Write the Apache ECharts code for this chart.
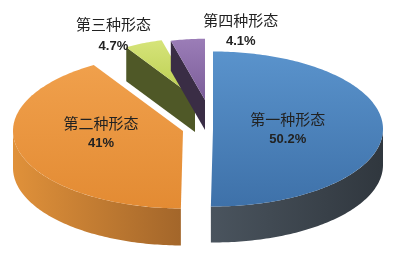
<!DOCTYPE html>
<html><head><meta charset="utf-8">
<script src="https://cdn.jsdelivr.net/npm/echarts@6/dist/echarts.min.js"></script>
<style>html,body{margin:0;padding:0;background:#fff}#c{width:400px;height:269px}</style>
</head><body><div id="c"></div>
<script>
// ---- data ----
const names = ['第一种形态', '第二种形态', '第三种形态', '第四种形态'];
const values = [50.2, 41, 4.7, 4.1];
const percentLabels = ['50.2%', '41%', '4.7%', '4.1%'];

// ---- styles / layout ----
const topColors = [['#5a93cc', '#3e71a9'], ['#f0a04c', '#e38b33'], ['#d6e47a', '#b9cc4c'], ['#9b7db7', '#7b5d99']];
const sideColors = [['#4a545e', '#30373e'], ['#e0913a', '#a3662a'], ['#6b763d', '#4f5827'], ['#5a4766', '#3a2d45']];
const geom = [
  { cx: 213, cy: 129, s: 1, d: 36 },
  { cx: 183, cy: 131, s: 1, d: 37 },
  { cx: 195, cy: 98, s: 0.77, d: 34 },
  { cx: 205, cy: 100, s: 0.79, d: 30 }
];
const RX = 170, RY = 77.5;
const labelLayout = [
  { mode: 'in', f: 0.44, dx: 0, dy: 0, gap: 20 },
  { mode: 'in', f: 0.5, dx: 0, dy: -8, gap: 20 },
  { mode: 'out', dx: -30, dy: -8, gap: 22 },
  { mode: 'out', dx: 53, dy: -8, gap: 21 }
];

const total = values.reduce((a, b) => a + b, 0);

function renderItem(params, api) {
  const i = params.dataIndex;
  let before = 0;
  for (let k = 0; k < i; k++) before += values[k];
  const a0 = before / total * 360;
  const a1 = (before + values[i]) / total * 360;
  const g = geom[i];
  const P = (deg, dy, f) => {
    const r = deg * Math.PI / 180;
    const ff = f == null ? 1 : f;
    return api.coord([g.cx + ff * g.s * RX * Math.sin(r), g.cy - ff * g.s * RY * Math.cos(r) + (dy || 0)]);
  };
  const arc = (from, to, dy) => {
    const pts = [];
    const n = Math.max(2, Math.ceil(Math.abs(to - from)));
    for (let k = 0; k <= n; k++) pts.push(P(from + (to - from) * k / n, dy));
    return pts;
  };
  const C = api.coord([g.cx, g.cy]);
  const Cd = api.coord([g.cx, g.cy + g.d]);
  const children = [];
  const sideFill = new echarts.graphic.LinearGradient(0, 0, 1, 0, [
    { offset: 0, color: sideColors[i][0] }, { offset: 1, color: sideColors[i][1] }]);

  // outer curved wall (front half only)
  const f0 = Math.max(a0, 90), f1 = Math.min(a1, 270);
  if (f1 > f0) {
    const topArc = arc(f0, f1, 0);
    const botArc = arc(f0, f1, g.d).reverse();
    children.push({ type: 'polygon', shape: { points: topArc.concat(botArc) },
      style: { fill: sideFill, stroke: 'none' } });
  }
  // radial walls
  const wall = (a, n) => {
    const c = Math.cos(n * Math.PI / 180);
    if (c < -0.05) {
      children.push({ type: 'polygon', shape: { points: [C, P(a, 0), P(a, g.d), Cd] },
        style: { fill: sideColors[i][1], stroke: 'none' } });
    }
  };
  wall(a0, a0 - 90);
  wall(a1, a1 + 90);
  // top face
  children.push({ type: 'polygon', shape: { points: [C].concat(arc(a0, a1, 0)) },
    style: { fill: new echarts.graphic.LinearGradient(0, 0, 0, 1, [
      { offset: 0, color: topColors[i][0] }, { offset: 1, color: topColors[i][1] }]), stroke: 'none' } });

  // labels
  const L = labelLayout[i];
  let lp;
  const mid = (a0 + a1) / 2;
  if (L.mode === 'in') {
    lp = P(mid, 0, L.f);
  } else {
    lp = P(mid, 0, 1);
  }
  const lx = lp[0] + L.dx, ly = lp[1] + L.dy;
  children.push({ type: 'text', z2: 10, style: { text: names[i], x: lx, y: ly - L.gap / 2,
    align: 'center', verticalAlign: 'middle', textAlign: 'center', textVerticalAlign: 'middle',
    font: '15px "Noto Sans CJK SC"', fill: '#222' } });
  children.push({ type: 'text', z2: 10, style: { text: percentLabels[i], x: lx, y: ly + L.gap / 2,
    align: 'center', verticalAlign: 'middle', textAlign: 'center', textVerticalAlign: 'middle',
    font: 'bold 13px "Liberation Sans"', fill: '#222' } });
  return { type: 'group', children };
}

const chart = echarts.init(document.getElementById('c'), null, { renderer: 'canvas' });
chart.setOption({
  animation: false,
  backgroundColor: '#fff',
  grid: { left: 0, right: 0, top: 0, bottom: 0 },
  xAxis: { type: 'value', min: 0, max: 400, show: false },
  yAxis: { type: 'value', min: 0, max: 269, inverse: true, show: false },
  series: [{
    type: 'custom',
    coordinateSystem: 'cartesian2d',
    renderItem,
    silent: true,
    clip: false,
    data: values.map((v, i) => [i, v])
  }]
});
</script></body></html>
